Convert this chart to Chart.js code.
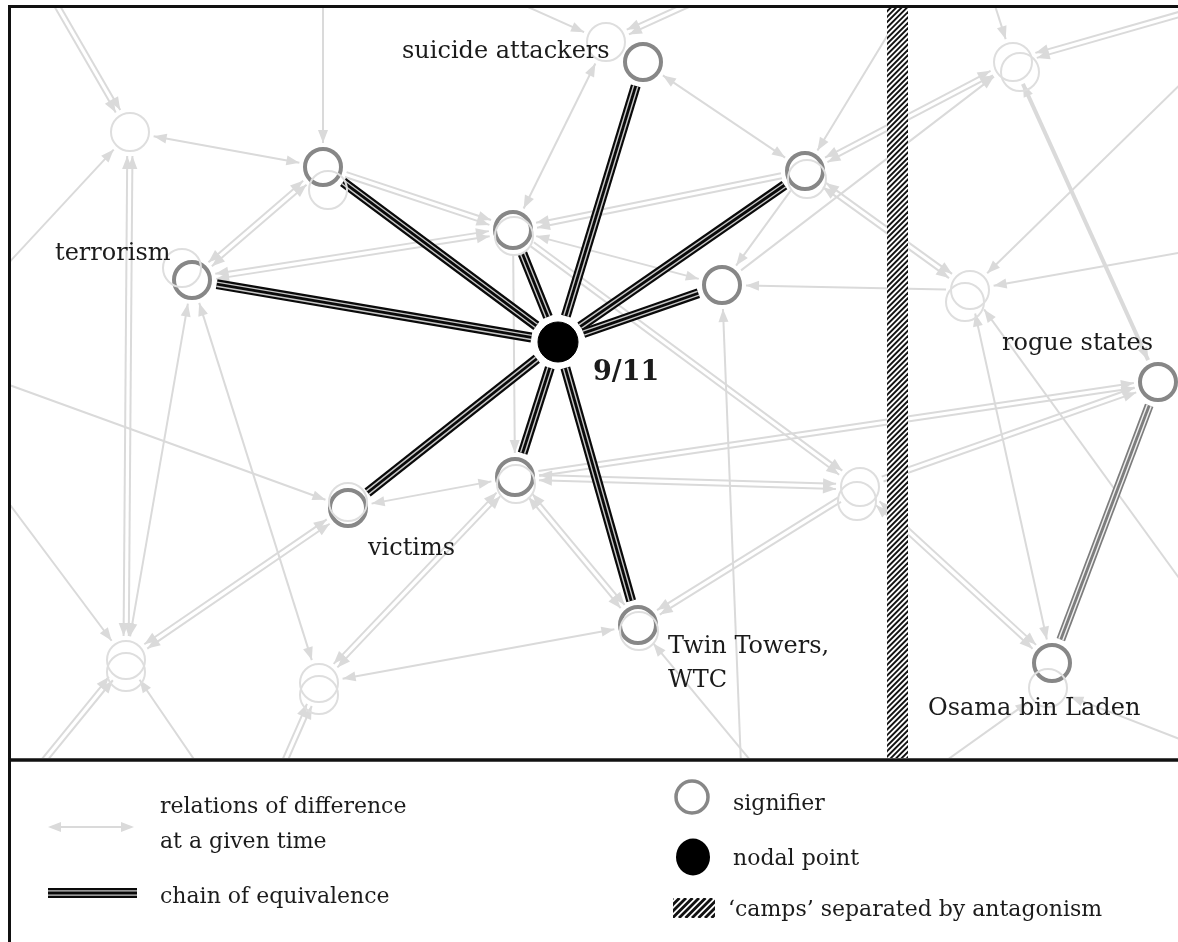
<!DOCTYPE html>
<html>
<head>
<meta charset="utf-8">
<script src="https://cdn.jsdelivr.net/npm/chart.js@4.4.1/dist/chart.umd.min.js"></script>
<style>
  html, body { margin: 0; padding: 0; background: #fff; overflow: hidden; }
  canvas { display: block; }
</style>
</head>
<body>
<canvas id="net" width="1178" height="942"></canvas>
<script>
// nodes of the discourse network (x, y in diagram units, y grows downward)
const nodeIds   = ['S', 'NE', 'UL', 'TR', 'CT', 'E', 'N', 'V', 'CB', 'TW', 'RS', 'OB',
                   'G1', 'G2', 'G3', 'G3b', 'G4', 'G4b', 'G5', 'G5b', 'G6', 'G6b', 'G7', 'G7b', 'G8',
                   'ULb', 'TRa', 'Vb', 'CBb', 'TWb', 'CTb', 'NEb',
                   'A1', 'A2', 'A3', 'A4', 'A5', 'A6', 'A7', 'A8', 'A9', 'A10', 'A11', 'A12', 'A13',
                   'A14', 'A15', 'A16', 'A17', 'A18', 'A20', 'A21'];
const nodeX     = [643, 805, 323, 192, 513, 722, 558, 348, 515, 638, 1158, 1052,
                   130, 606, 1013, 1020, 970, 965, 860, 857, 126, 126, 319, 319, 1048,
                   328, 182, 348, 516, 639, 514, 807,
                   45, 323, -10, -10, -10, 20, 215, 272, 775, 742, 905, 490, 720,
                   1195, 990, 1195, 1195, 915, 1195, 1195];
const nodeY     = [62, 171, 167, 280, 230, 285, 342, 508, 477, 625, 382, 663,
                   132, 42, 62, 72, 290, 302, 487, 501, 660, 672, 683, 695, 688,
                   190, 268, 502, 484, 631, 236, 179,
                   -15, -10, 283, 378, 478, 790, 790, 790, 790, 790, 790, -10, -10,
                   10, -10, 250, 70, -10, 600, 745];
const nodeKind  = ['sig', 'sig', 'sig', 'sig', 'sig', 'sig', 'nodal', 'sig', 'sig', 'sig', 'sig', 'sig',
                   'ghost', 'ghost', 'ghost', 'ghost', 'ghost', 'ghost', 'ghost', 'ghost', 'ghost', 'ghost', 'ghost', 'ghost', 'ghost',
                   'ghost', 'ghost', 'ghost', 'ghost', 'ghost', 'ghost', 'ghost',
                   'anchor', 'anchor', 'anchor', 'anchor', 'anchor', 'anchor', 'anchor', 'anchor', 'anchor', 'anchor', 'anchor', 'anchor', 'anchor',
                   'anchor', 'anchor', 'anchor', 'anchor', 'anchor', 'anchor', 'anchor'];

// relations of difference: from, to, arrow heads, number of parallel lines
const edgeFrom  = ['A1', 'A2', 'A3', 'G1', 'G1', 'TR', 'TR', 'UL', 'TR', 'TR', 'A4', 'A5', 'V', 'A6', 'A7', 'A8',
                   'TW', 'CB', 'V', 'CB', 'CT', 'G2', 'A12', 'A13', 'S', 'NE', 'CT', 'NE', 'G4', 'A10', 'CT', 'CB',
                   'CB', 'G5', 'G5', 'G5', 'NE', 'A18', 'A14', 'A15', 'G3', 'A17', 'A16', 'NE', 'E', 'G4', 'G4',
                   'A21', 'A11', 'A9'];
const edgeTo    = ['G1', 'UL', 'G1', 'UL', 'G6', 'UL', 'CT', 'CT', 'G6', 'G7', 'V', 'G6', 'G6', 'G6', 'G6', 'G7',
                   'G7', 'G7', 'CB', 'TW', 'CB', 'CT', 'G2', 'G2', 'NE', 'CT', 'E', 'E', 'E', 'E', 'G5', 'G5',
                   'RS', 'RS', 'OB', 'TW', 'G3', 'NE', 'G3', 'G3', 'RS', 'G4', 'G4', 'G4', 'G3', 'OB', 'A20',
                   'G8', 'G8', 'TW'];
const edgeHeads = ['end', 'end', 'end', 'both', 'both', 'both', 'both', 'end', 'both', 'both', 'end', 'end', 'both', 'end', 'end', 'end',
                   'both', 'both', 'both', 'both', 'end', 'both', 'end', 'end', 'both', 'end', 'both', 'end', 'end', 'end', 'end', 'both',
                   'end', 'end', 'both', 'end', 'both', 'end', 'end', 'end', 'both', 'end', 'end', 'both', 'end', 'both', 'start',
                   'end', 'end', 'end'];
const edgeLines = [2, 1, 1, 1, 2, 2, 2, 2, 1, 1, 1, 1, 2, 2, 1, 2,
                   1, 2, 1, 2, 1, 1, 1, 2, 1, 2, 1, 1, 1, 1, 2, 2,
                   2, 2, 2, 2, 2, 1, 2, 1, 1, 1, 1, 2, 1, 1, 1,
                   1, 1, 1];

// chains of equivalence
const chainFrom = ['N', 'N', 'N', 'N', 'N', 'N', 'N', 'N', 'N', 'RS'];
const chainTo   = ['S', 'NE', 'UL', 'TR', 'CT', 'E', 'V', 'CB', 'TW', 'OB'];

// node labels
const labelNode = ['S', 'TR', 'N', 'V', 'TW', 'TW', 'RS', 'OB'];
const labelText = ['suicide attackers', 'terrorism', '9/11', 'victims', 'Twin Towers,', 'WTC', 'rogue states', 'Osama bin Laden'];

// legend texts
const legendText = ['relations of difference', 'at a given time', 'chain of equivalence',
                    'signifier', 'nodal point', '\u2018camps\u2019 separated by antagonism'];

// label placement relative to node (layout only)
const labelOffset = [[-241, -4], [-137, -20], [35, 38], [20, 47], [30, 28], [30, 62], [-156, -32], [-124, 52]];

const SERIF = '"DejaVu Serif", "Liberation Serif", serif';
const GREY_LINE = '#dadada';

function points(kind) {
  const out = [];
  nodeIds.forEach((id, i) => { if (nodeKind[i] === kind) out.push({ x: nodeX[i], y: nodeY[i] }); });
  return out;
}

function pos(chart, id) {
  const i = nodeIds.indexOf(id);
  return {
    x: chart.scales.x.getPixelForValue(nodeX[i]),
    y: chart.scales.y.getPixelForValue(nodeY[i]),
    kind: nodeKind[i]
  };
}

function arrowHead(ctx, x, y, ang) {
  const L = 13, W = 5;
  ctx.beginPath();
  ctx.moveTo(x, y);
  ctx.lineTo(x - L * Math.cos(ang) - W * Math.sin(ang), y - L * Math.sin(ang) + W * Math.cos(ang));
  ctx.lineTo(x - L * Math.cos(ang) + W * Math.sin(ang), y - L * Math.sin(ang) - W * Math.cos(ang));
  ctx.closePath();
  ctx.fill();
}

function trimmed(p, q, trimP, trimQ) {
  const dx = q.x - p.x, dy = q.y - p.y, d = Math.hypot(dx, dy);
  const ux = dx / d, uy = dy / d;
  return {
    a: { x: p.x + ux * trimP, y: p.y + uy * trimP },
    b: { x: q.x - ux * trimQ, y: q.y - uy * trimQ },
    ang: Math.atan2(dy, dx), nx: -uy, ny: ux
  };
}

function drawChain(ctx, a, b, nx, ny, base, stripe, width) {
  ctx.lineCap = 'butt';
  ctx.strokeStyle = base;
  ctx.lineWidth = width;
  ctx.beginPath(); ctx.moveTo(a.x, a.y); ctx.lineTo(b.x, b.y); ctx.stroke();
  ctx.strokeStyle = stripe;
  ctx.lineWidth = 1.4;
  [-2.1, 2.1].forEach(o => {
    ctx.beginPath();
    ctx.moveTo(a.x + nx * o, a.y + ny * o);
    ctx.lineTo(b.x + nx * o, b.y + ny * o);
    ctx.stroke();
  });
}

function hatch(ctx, x0, y0, w, h, step, lw) {
  ctx.save();
  ctx.beginPath(); ctx.rect(x0, y0, w, h); ctx.clip();
  ctx.fillStyle = '#fff'; ctx.fillRect(x0, y0, w, h);
  ctx.strokeStyle = '#111'; ctx.lineWidth = lw;
  for (let k = -h; k < w + h; k += step) {
    ctx.beginPath();
    ctx.moveTo(x0 + k, y0 + h);
    ctx.lineTo(x0 + k + h, y0);
    ctx.stroke();
  }
  ctx.restore();
}

const networkPlugin = {
  id: 'network',
  beforeDatasetsDraw(chart) {
    const ctx = chart.ctx;
    const yTop = chart.scales.y.getPixelForValue(8), yBot = chart.scales.y.getPixelForValue(758);
    const xL = chart.scales.x.getPixelForValue(11), xR = chart.scales.x.getPixelForValue(1178);
    ctx.save();
    ctx.beginPath(); ctx.rect(xL, yTop, xR - xL, yBot - yTop); ctx.clip();

    // relations of difference
    ctx.strokeStyle = GREY_LINE; ctx.fillStyle = GREY_LINE;
    edgeFrom.forEach((f, i) => {
      const p = pos(chart, f), q = pos(chart, edgeTo[i]);
      const t = trimmed(p, q, p.kind === 'anchor' ? 0 : 24, q.kind === 'anchor' ? 0 : 24);
      const offs = edgeLines[i] === 2 ? [-2.6, 2.6] : [0];
      const heavy = f === 'G3' && edgeTo[i] === 'RS';
      ctx.lineWidth = heavy ? 4 : 2;
      offs.forEach(o => {
        const a = { x: t.a.x + t.nx * o, y: t.a.y + t.ny * o };
        const b = { x: t.b.x + t.nx * o, y: t.b.y + t.ny * o };
        ctx.beginPath(); ctx.moveTo(a.x, a.y); ctx.lineTo(b.x, b.y); ctx.stroke();
        if (edgeHeads[i] === 'end' || edgeHeads[i] === 'both') arrowHead(ctx, b.x, b.y, t.ang);
        if (edgeHeads[i] === 'start' || edgeHeads[i] === 'both') arrowHead(ctx, a.x, a.y, t.ang + Math.PI);
      });
    });

    // antagonistic frontier
    const bx0 = chart.scales.x.getPixelForValue(887), bx1 = chart.scales.x.getPixelForValue(908);
    hatch(ctx, bx0, yTop - 2, bx1 - bx0, yBot - yTop + 4, 5.4, 1.9);

    // chains of equivalence
    chainFrom.forEach((f, i) => {
      const p = pos(chart, f), q = pos(chart, chainTo[i]);
      const t = trimmed(p, q, p.kind === 'nodal' ? 27 : 25, 25);
      if (f === 'N') drawChain(ctx, t.a, t.b, t.nx, t.ny, '#0a0a0a', '#c8c8c8', 10);
      else drawChain(ctx, t.a, t.b, t.nx, t.ny, '#7d7d7d', '#f0f0f0', 9);
    });
    ctx.restore();
  },
  afterDatasetsDraw(chart) {
    const ctx = chart.ctx;
    const X = v => chart.scales.x.getPixelForValue(v);
    const Y = v => chart.scales.y.getPixelForValue(v);
    ctx.save();

    // labels
    ctx.fillStyle = '#1b1b1b';
    ctx.textBaseline = 'alphabetic';
    labelNode.forEach((id, i) => {
      const p = pos(chart, id);
      ctx.font = (labelText[i] === '9/11' ? 'bold 27px ' : '24px ') + SERIF;
      ctx.fillText(labelText[i], p.x + labelOffset[i][0], p.y + labelOffset[i][1]);
    });

    // frame
    ctx.strokeStyle = '#111';
    ctx.lineWidth = 3;
    ctx.beginPath(); ctx.moveTo(X(8), Y(6.5)); ctx.lineTo(X(1178), Y(6.5)); ctx.stroke();
    ctx.beginPath(); ctx.moveTo(X(9.5), Y(5)); ctx.lineTo(X(9.5), Y(942)); ctx.stroke();
    ctx.lineWidth = 3.5;
    ctx.beginPath(); ctx.moveTo(X(8), Y(760)); ctx.lineTo(X(1178), Y(760)); ctx.stroke();

    // legend
    ctx.strokeStyle = GREY_LINE; ctx.fillStyle = GREY_LINE; ctx.lineWidth = 2;
    ctx.beginPath(); ctx.moveTo(X(52), Y(827)); ctx.lineTo(X(130), Y(827)); ctx.stroke();
    arrowHead(ctx, X(134), Y(827), 0);
    arrowHead(ctx, X(48), Y(827), Math.PI);
    drawChain(ctx, { x: X(48), y: Y(893) }, { x: X(137), y: Y(893) }, 0, 1, '#0a0a0a', '#c8c8c8', 10);

    ctx.beginPath(); ctx.arc(X(692), Y(797), 16, 0, Math.PI * 2);
    ctx.fillStyle = '#fff'; ctx.fill();
    ctx.strokeStyle = '#878787'; ctx.lineWidth = 3.5; ctx.stroke();
    ctx.beginPath(); ctx.ellipse(X(693), Y(857), 17, 18.5, 0, 0, Math.PI * 2);
    ctx.fillStyle = '#000'; ctx.fill();
    hatch(ctx, X(673), Y(898), 42, 20, 6.5, 2.8);

    ctx.fillStyle = '#1b1b1b';
    ctx.font = '22px ' + SERIF;
    ctx.fillText(legendText[0], X(160), Y(813));
    ctx.fillText(legendText[1], X(160), Y(848));
    ctx.fillText(legendText[2], X(160), Y(903));
    ctx.fillText(legendText[3], X(733), Y(810));
    ctx.fillText(legendText[4], X(733), Y(865));
    ctx.fillText(legendText[5], X(728), Y(916));
    ctx.restore();
  }
};

new Chart(document.getElementById('net'), {
  type: 'scatter',
  data: {
    datasets: [
      {
        label: 'ghost',
        data: points('ghost'),
        pointRadius: 19,
        borderWidth: 2,
        borderColor: '#dedede',
        backgroundColor: 'rgba(255,255,255,0)'
      },
      {
        label: 'signifier',
        data: points('sig'),
        pointRadius: 18,
        borderWidth: 4,
        borderColor: '#878787',
        backgroundColor: '#ffffff'
      },
      {
        label: 'nodal point',
        data: points('nodal'),
        pointRadius: 20,
        borderWidth: 1,
        borderColor: '#000',
        backgroundColor: '#000'
      }
    ]
  },
  options: {
    responsive: false,
    animation: false,
    devicePixelRatio: 1,
    events: [],
    layout: { autoPadding: false, padding: 0 },
    clip: false,
    scales: {
      x: { type: 'linear', min: 0, max: 1178, display: false },
      y: { type: 'linear', min: 0, max: 942, reverse: true, display: false }
    },
    plugins: {
      legend: { display: false },
      tooltip: { enabled: false }
    }
  },
  plugins: [networkPlugin]
});
</script>
</body>
</html>
